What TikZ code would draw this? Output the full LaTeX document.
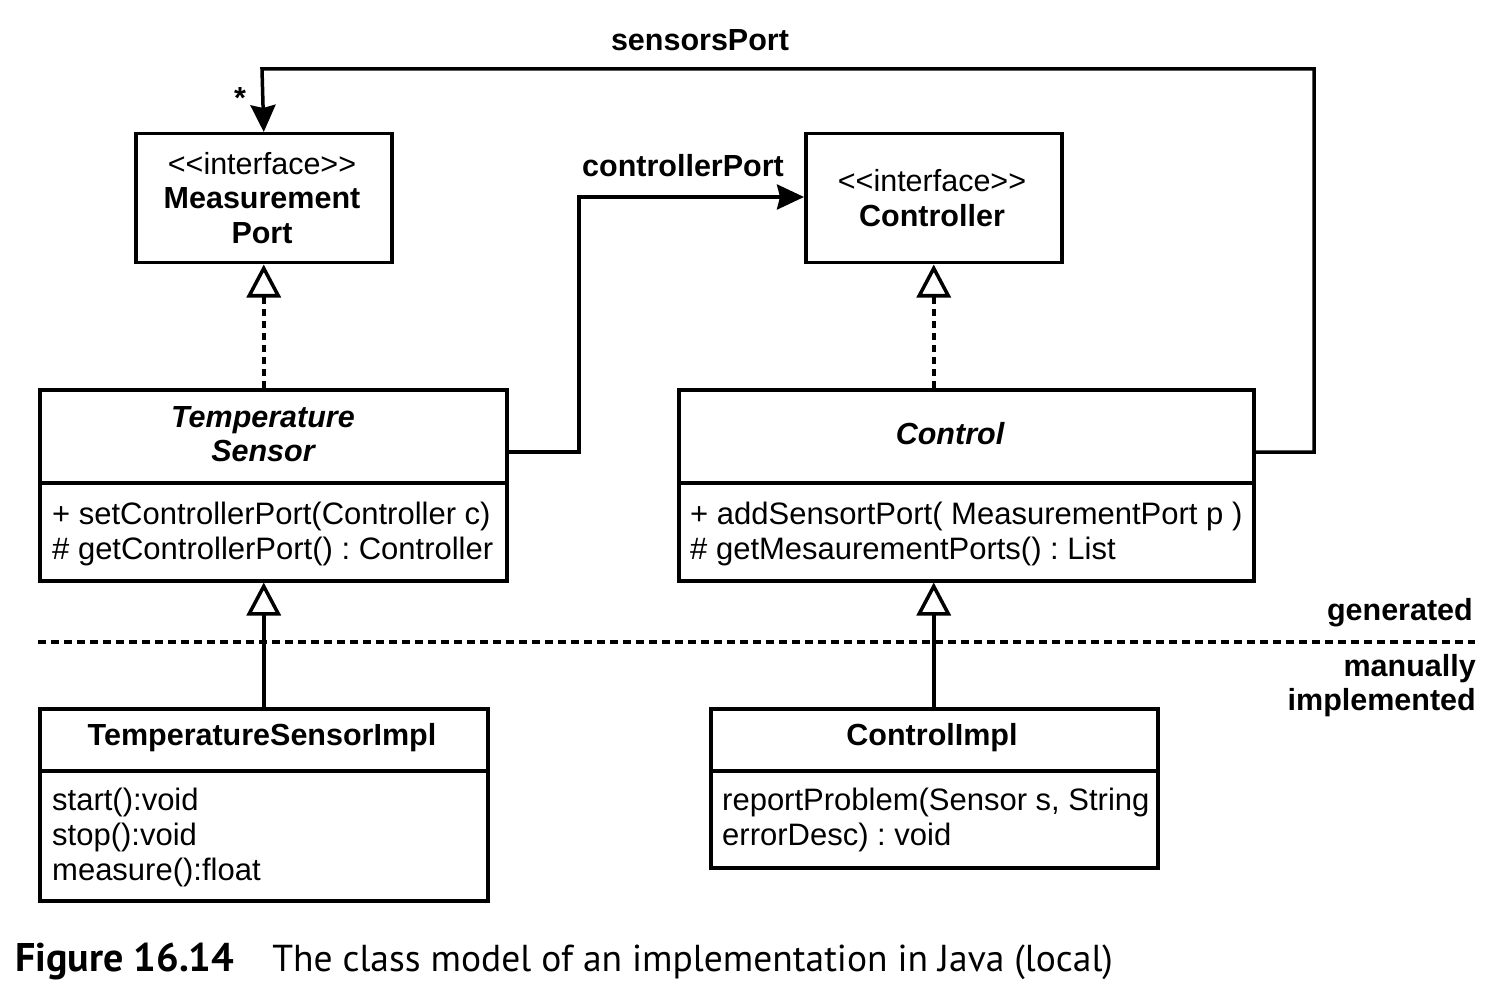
\documentclass[tikz,border=0pt]{standalone}
\usepackage{fontspec}
\setmainfont{Liberation Sans}
\newfontfamily\capfont{PT Sans}
\usetikzlibrary{arrows.meta}
\newcommand{\guil}[1]{<\kern0pt<#1>\kern0pt>}
\frenchspacing
\begin{document}
\begin{tikzpicture}[x=1pt,y=-1pt,
  box/.style={draw, line width=3.5pt, anchor=north west, inner sep=0pt},
  txt/.style={font=\fontsize{30.5}{34.5}\selectfont, inner sep=0pt},
  ttl/.style={font=\fontsize{30.5}{34}\selectfont\bfseries, inner sep=0pt, align=center},
  itl/.style={font=\fontsize{30.5}{34}\selectfont\bfseries\itshape, inner sep=0pt, align=center},
  meth/.style={font=\fontsize{31}{34.8}\selectfont, inner sep=0pt, align=left, anchor=north west},
  sep/.style={line width=3.5pt},
  real/.style={line width=3.5pt, dash pattern=on 7pt off 5pt, -{Triangle[open, length=33pt, width=34pt, line width=3.5pt]}},
  gen/.style={line width=3.5pt, -{Triangle[open, length=33pt, width=34pt, line width=3.5pt]}},
  nav/.style={line width=3.5pt, -{Stealth[length=27pt, width=25pt, inset=3pt]}}
]
\useasboundingbox (0,0) rectangle (1496,1000);

% boxes
\node[box, minimum width=256pt, minimum height=129pt] (mp) at (134,132) {};
\node[box, minimum width=256pt, minimum height=129pt] (ctl) at (804,132) {};
\node[box, minimum width=467pt, minimum height=191pt] (ts) at (38,388) {};
\node[box, minimum width=575pt, minimum height=191pt] (con) at (677,388) {};
\node[box, minimum width=448pt, minimum height=192pt] (tsi) at (38,707) {};
\node[box, minimum width=447pt, minimum height=159pt] (coi) at (709,707) {};

% dividers
\draw[sep] (38,483) -- (505,483);
\draw[sep] (677,483) -- (1252,483);
\draw[sep] (38,771) -- (486,771);
\draw[sep] (709,771) -- (1156,771);

% texts
\node[txt, align=center] (mpt) at (262,198) {\guil{interface}\\\textbf{Measurement}\\\textbf{Port}};
\node[txt, align=center] (ctlt) at (932,198) {\guil{interface}\\\textbf{Controller}};
\node[itl] (tst) at (263,434) {Temperature\\Sensor};
\node[itl] (cont) at (950,434) {Control};
\node[meth] (tsm) at (52,502) {+ setControllerPort(Controller c)\\\# getControllerPort() : Controller};
\node[meth] (conm) at (690,502) {+ addSensortPort( MeasurementPort p )\\\# getMesaurementPorts() : List};
\node[ttl] (tsit) at (262,738) {TemperatureSensorImpl};
\node[ttl] (coit) at (932,738) {ControlImpl};
\node[meth] (tsim) at (52,788) {start():void\\stop():void\\measure():float};
\node[meth] (coim) at (722,788) {reportProblem(Sensor s, String\\errorDesc) : void};

% separator
\draw[line width=3.5pt, dash pattern=on 8pt off 5pt] (38,642) -- (1475,642);
\node[ttl, anchor=east] (gen) at (1473,613) {generated};
\node[ttl, anchor=east, align=right] (man) at (1476,686) {manually\\implemented};

% realizations
\draw[real] (mp.south |- ts.north) -- (mp.south);
\draw[real] (ctl.south |- con.north) -- (ctl.south);
% generalizations
\draw[gen] (tsi.north) -- (tsi.north |- ts.south);
\draw[gen] (ctl.south |- coi.north) -- (ctl.south |- con.south);

% associations
\draw[nav] (ts.east |- 0,452) -- (579,452) -- (579,197) -- (ctl.west |- 0,197);
\node[ttl] (cpl) at (683,166) {controllerPort};
\draw[nav] (con.east |- 0,452) -- (1314,452) -- (1314,69) -- (262,69) -- (mp.north);
\node[ttl] (spl) at (700,40) {sensorsPort};
\node[ttl] (star) at (240,98) {*};

% caption
\node[anchor=base west, inner sep=0pt, font=\capfont\fontsize{37.5}{40}\selectfont] (cap) at (15,971) {{\fontsize{40}{40}\selectfont\bfseries Figure 16.14}\hspace{38pt}The class model of an implementation in Java (local)};
\end{tikzpicture}
\end{document}
